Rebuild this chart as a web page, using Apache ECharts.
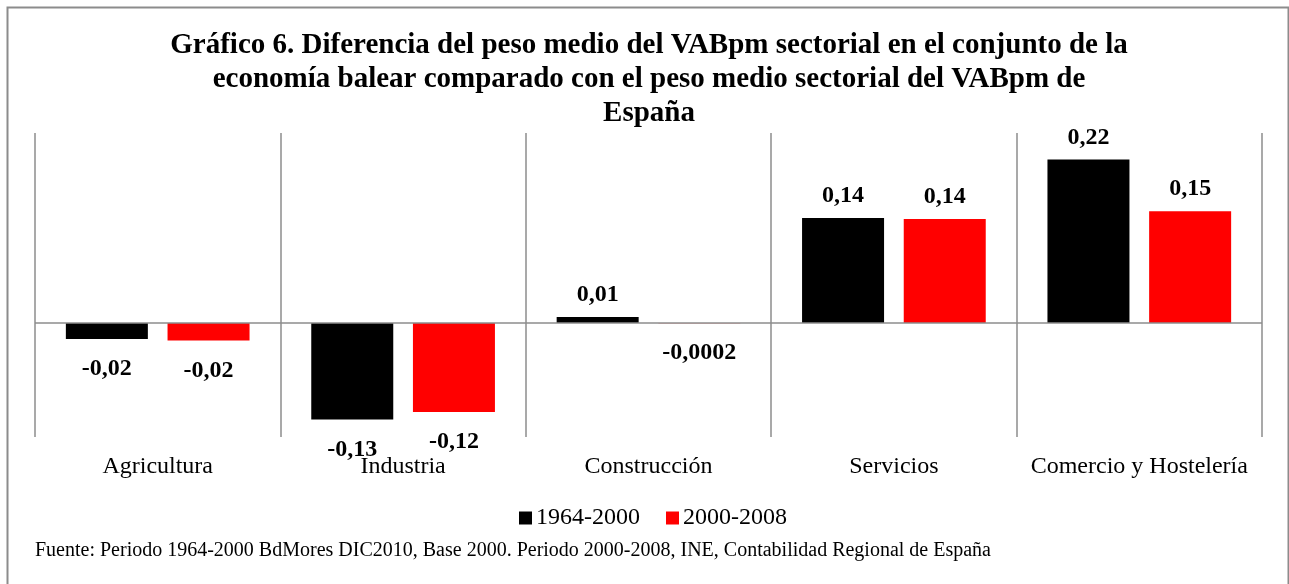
<!DOCTYPE html>
<html>
<head>
<meta charset="utf-8">
<script src="https://cdn.jsdelivr.net/npm/echarts@6/dist/echarts.min.js"></script>
<style>
  html, body { margin: 0; padding: 0; background: #fff; }
  #chart { width: 1289px; height: 584px; }
</style>
</head>
<body>
<div id="chart"></div>
<script>
var categories = ["Agricultura", "Industria", "Construcción", "Servicios", "Comercio y Hostelería"];
var seriesNames = ["1964-2000", "2000-2008"];
var values1964 = [-0.021, -0.127, 0.008, 0.138, 0.215];
var values2000 = [-0.023, -0.117, -0.0002, 0.137, 0.147];
var labels1964 = ["-0,02", "-0,13", "0,01", "0,14", "0,22"];
var labels2000 = ["-0,02", "-0,12", "-0,0002", "0,14", "0,15"];

var serif = "'Liberation Serif', 'DejaVu Serif', serif";

function buildData(values) {
  return values.map(function (v) {
    return { value: v, label: { position: v < 0 ? "bottom" : "top", distance: v < 0 ? 18 : 10 } };
  });
}

var chart = echarts.init(document.getElementById("chart"));
var option = {
  animation: false,
  legend: {
    data: seriesNames,
    left: 514,
    top: 501,
    icon: "rect",
    itemWidth: 13,
    itemHeight: 13,
    itemGap: 26,
    itemStyle: { borderWidth: 0 },
    textStyle: { fontFamily: serif, fontSize: 24, color: "#000", padding: [0, 0, 0, -1] }
  },
  grid: { left: 35, right: 27, top: 133, bottom: 147 },
  xAxis: {
    type: "category",
    data: categories,
    axisLine: { show: false, onZero: false },
    axisTick: { show: false, interval: 0 },
    axisLabel: { interval: 0, margin: 18, fontFamily: serif, fontSize: 24, color: "#000" },
    splitLine: { show: true, interval: 0, lineStyle: { color: "#8c8c8c", width: 1.5 } }
  },
  yAxis: {
    type: "value",
    min: -0.15,
    max: 0.25,
    interval: 0.05,
    show: false,
    splitLine: { show: false }
  },
  series: [
    {
      name: seriesNames[0],
      type: "bar",
      barWidth: 82,
      barGap: "24%",
      itemStyle: { color: "#000000" },
      label: {
        show: true,
        fontFamily: serif,
        fontWeight: "bold",
        fontSize: 24,
        color: "#000",
        formatter: function (p) { return labels1964[p.dataIndex]; }
      },
      data: buildData(values1964),
      markLine: {
        silent: true,
        symbol: "none",
        label: { show: false },
        lineStyle: { color: "#8c8c8c", width: 1.5, type: "solid" },
        data: [{ yAxis: 0 }]
      }
    },
    {
      name: seriesNames[1],
      type: "bar",
      barWidth: 82,
      barGap: "24%",
      itemStyle: { color: "#ff0000" },
      label: {
        show: true,
        fontFamily: serif,
        fontWeight: "bold",
        fontSize: 24,
        color: "#000",
        formatter: function (p) { return labels2000[p.dataIndex]; }
      },
      data: buildData(values2000)
    }
  ],
  graphic: [
    {
      type: "rect",
      silent: true,
      z: -1,
      shape: { x: 7.5, y: 7.5, width: 1281, height: 600 },
      style: { fill: null, stroke: "#8c8c8c", lineWidth: 2 }
    },
    {
      type: "text",
      x: 649,
      y: 29,
      style: {
        text: "Gráfico 6. Diferencia del peso medio del VABpm sectorial en el conjunto de la\neconomía balear comparado con el peso medio sectorial del VABpm de\nEspaña",
        font: "bold 29px " + serif,
        lineHeight: 34,
        align: "center",
        fill: "#000"
      }
    },
    {
      type: "text",
      left: 35,
      top: 541,
      style: {
        text: "Fuente: Periodo 1964-2000 BdMores DIC2010, Base 2000. Periodo 2000-2008, INE, Contabilidad Regional de España",
        font: "20px " + serif,
        fill: "#000"
      }
    }
  ]
};
chart.setOption(option);
</script>
</body>
</html>
